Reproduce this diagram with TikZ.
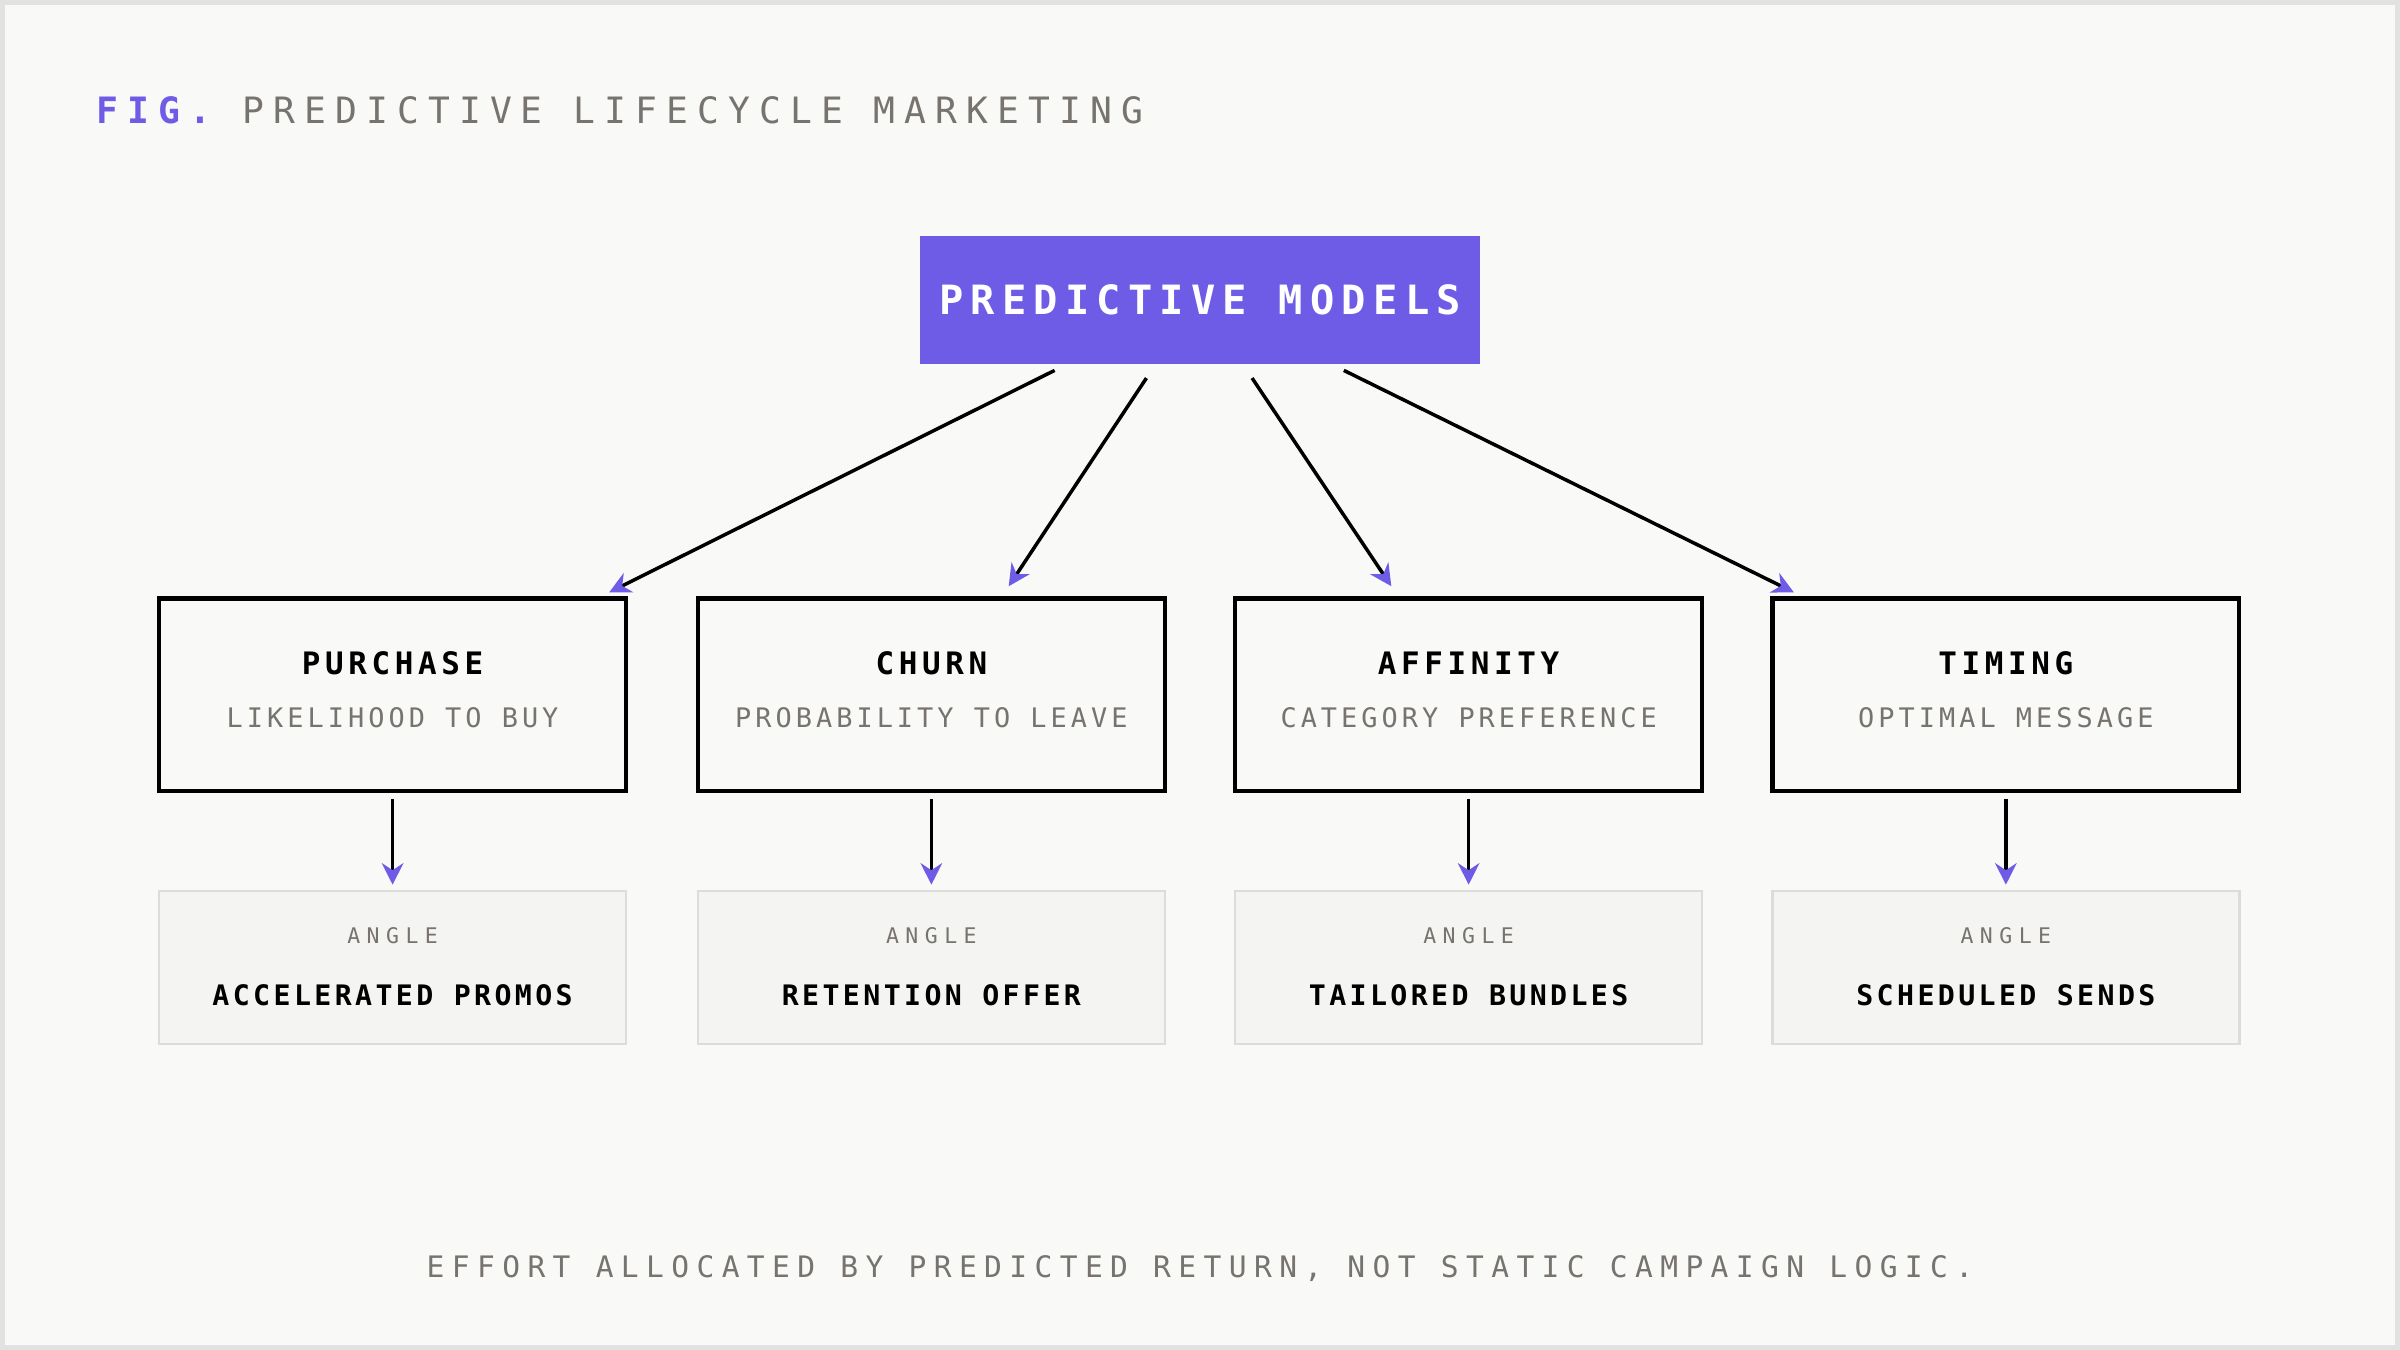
\documentclass[tikz,border=0pt]{standalone}
\usepackage{fontspec}
\setmainfont{DejaVu Sans Mono}
\usetikzlibrary{arrows.meta}
\definecolor{pur}{HTML}{6E5CE6}
\definecolor{gr}{HTML}{77736E}
\definecolor{bg}{HTML}{F9F9F7}
\definecolor{fr}{HTML}{E2E2E2}
\definecolor{af}{HTML}{F4F4F2}
\definecolor{ab}{HTML}{DCDCDA}
\newcommand{\lsp}[1]{\addfontfeature{LetterSpace=#1}}
\begin{document}
\begin{tikzpicture}[x=0.02cm,y=-0.02cm,
  model/.style={draw=black,line width=1.6pt,minimum width=305*0.02cm,minimum height=126*0.02cm,inner sep=0pt},
  angbox/.style={draw=ab,fill=af,line width=0.9pt,minimum width=305*0.02cm,minimum height=100*0.02cm,inner sep=0pt},
  ttl/.style={font=\fontsize{11.5pt}{13pt}\selectfont\bfseries\lsp{15}},
  sub/.style={text=gr,font=\fontsize{10pt}{12pt}\selectfont\lsp{15}},
  small/.style={text=gr,font=\fontsize{8pt}{10pt}\selectfont\lsp{30}},
  lab/.style={font=\fontsize{10.5pt}{12pt}\selectfont\bfseries\lsp{12}},
  arr/.style={line width=1.3pt,-{Stealth[length=8pt,width=8pt,color=pur]}}]
\fill[fr] (0,0) rectangle (1568,882);
\fill[bg] (3,3) rectangle (1565,879);
\useasboundingbox (0,0) rectangle (1568,882);
\node[anchor=west,inner sep=0pt,font=\fontsize{13.5pt}{15pt}\selectfont\lsp{25}] (title) at (63,72) {\textcolor{pur}{\bfseries FIG.} \textcolor{gr}{PREDICTIVE LIFECYCLE MARKETING}};
\node[fill=pur,minimum width=366*0.02cm,minimum height=84*0.02cm,inner sep=0pt,text=white,font=\fontsize{15pt}{17pt}\selectfont\bfseries\lsp{18}] (top) at (784,196) {PREDICTIVE MODELS};
\foreach \i/\x/\t/\s/\a in {1/256.5/PURCHASE/LIKELIHOOD TO BUY/ACCELERATED PROMOS,
  2/608.5/CHURN/PROBABILITY TO LEAVE/RETENTION OFFER,
  3/959.5/AFFINITY/CATEGORY PREFERENCE/TAILORED BUNDLES,
  4/1310.5/TIMING/OPTIMAL MESSAGE/SCHEDULED SENDS}{
  \node[model] (m\i) at (\x,454) {};
  \node[ttl] (mt\i) at (\x,433) {\t};
  \node[sub] (ms\i) at (\x,469) {\s};
  \node[angbox] (a\i) at (\x,632) {};
  \node[small] (ak\i) at (\x,611) {ANGLE};
  \node[lab] (al\i) at (\x,650) {\a};
  \coordinate (vs\i) at (\x,522);
  \coordinate (ve\i) at (\x,578);
  \draw[arr] (vs\i) -- (ve\i);
}
\coordinate (s1) at (689,242); \coordinate (e1) at (398,387);
\coordinate (s2) at (749,247); \coordinate (e2) at (659,383);
\coordinate (s3) at (818,247); \coordinate (e3) at (909,383);
\coordinate (s4) at (878,242); \coordinate (e4) at (1172,387);
\foreach \i in {1,...,4}{\draw[arr] (s\i) -- (e\i);}
\node[text=gr,font=\fontsize{11pt}{13pt}\selectfont\lsp{25}] (foot) at (784,829) {EFFORT ALLOCATED BY PREDICTED RETURN, NOT STATIC CAMPAIGN LOGIC.};
\end{tikzpicture}
\end{document}
